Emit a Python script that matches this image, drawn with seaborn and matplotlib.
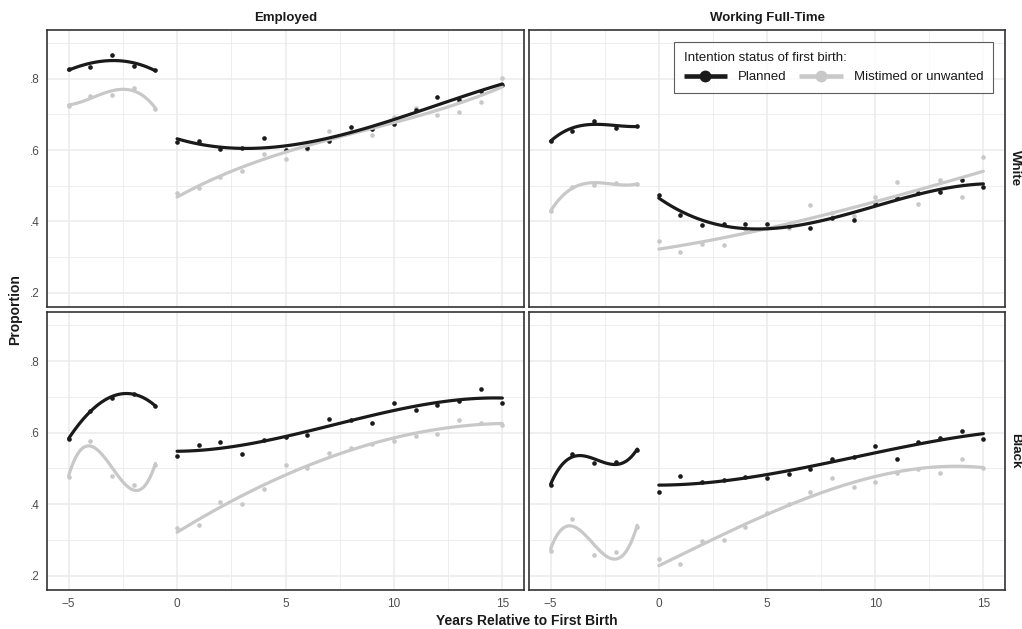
import numpy as np
import pandas as pd
import matplotlib
matplotlib.use("Agg")
import matplotlib.pyplot as plt
from matplotlib.lines import Line2D
import seaborn as sns

# ---------------- data ----------------
years = list(range(-5, 16))

white_emp_planned = [0.827, 0.834, 0.866, 0.835, 0.825,
                     0.624, 0.626, 0.603, 0.606, 0.634, 0.599, 0.607, 0.627, 0.664, 0.659,
                     0.672, 0.713, 0.748, 0.740, 0.765, 0.783]
white_emp_mistimed = [0.725, 0.752, 0.756, 0.773, 0.716,
                      0.479, 0.493, 0.524, 0.542, 0.589, 0.576, 0.603, 0.655, 0.652, 0.643,
                      0.694, 0.718, 0.699, 0.706, 0.734, 0.803]
white_ft_planned = [0.627, 0.655, 0.683, 0.662, 0.668,
                    0.475, 0.417, 0.390, 0.393, 0.392, 0.394, 0.386, 0.382, 0.410, 0.404,
                    0.451, 0.467, 0.479, 0.483, 0.515, 0.496]
white_ft_mistimed = [0.428, 0.498, 0.501, 0.509, 0.504,
                     0.346, 0.313, 0.336, 0.333, 0.378, 0.382, 0.381, 0.446, 0.425, 0.416,
                     0.468, 0.511, 0.449, 0.516, 0.468, 0.582]
black_emp_planned = [0.583, 0.661, 0.698, 0.709, 0.674,
                     0.535, 0.566, 0.575, 0.539, 0.578, 0.588, 0.594, 0.639, 0.634, 0.628,
                     0.683, 0.664, 0.676, 0.687, 0.722, 0.683]
black_emp_mistimed = [0.476, 0.577, 0.480, 0.454, 0.510,
                      0.332, 0.342, 0.407, 0.401, 0.441, 0.508, 0.500, 0.544, 0.556, 0.568,
                      0.576, 0.591, 0.595, 0.634, 0.628, 0.621]
black_ft_planned = [0.454, 0.539, 0.516, 0.518, 0.552,
                    0.434, 0.478, 0.463, 0.467, 0.476, 0.474, 0.483, 0.499, 0.525, 0.532,
                    0.563, 0.525, 0.574, 0.585, 0.605, 0.583]
black_ft_mistimed = [0.270, 0.358, 0.258, 0.266, 0.336,
                     0.247, 0.234, 0.296, 0.299, 0.336, 0.374, 0.401, 0.435, 0.472, 0.449,
                     0.462, 0.486, 0.497, 0.488, 0.525, 0.501]

races = ["White", "Black"]
outcomes = ["Employed", "Working Full-Time"]
groups = ["Planned", "Mistimed or unwanted"]
legend_title = "Intention status of first birth:"
x_label = "Years Relative to First Birth"
y_label = "Proportion"
x_ticks = [-5, 0, 5, 10, 15]
x_tick_labels = ["\u22125", "0", "5", "10", "15"]
y_ticks = [0.2, 0.4, 0.6, 0.8]
y_tick_labels = [".2", ".4", ".6", ".8"]

series = {
    ("White", "Employed", "Planned"): white_emp_planned,
    ("White", "Employed", "Mistimed or unwanted"): white_emp_mistimed,
    ("White", "Working Full-Time", "Planned"): white_ft_planned,
    ("White", "Working Full-Time", "Mistimed or unwanted"): white_ft_mistimed,
    ("Black", "Employed", "Planned"): black_emp_planned,
    ("Black", "Employed", "Mistimed or unwanted"): black_emp_mistimed,
    ("Black", "Working Full-Time", "Planned"): black_ft_planned,
    ("Black", "Working Full-Time", "Mistimed or unwanted"): black_ft_mistimed,
}

rows = []
for (race, outcome, grp), vals in series.items():
    for yr, v in zip(years, vals):
        rows.append(dict(race=race, outcome=outcome, group=grp, year=yr, value=v,
                         segment="pre" if yr < 0 else "post"))
df = pd.DataFrame(rows)

# ---------------- style ----------------
sns.set_theme(style="white")
plt.rcParams["font.family"] = ["Liberation Sans", "DejaVu Sans"]

colors = {"Planned": "#1a1a1a", "Mistimed or unwanted": "#c8c8c8"}
draw_order = ["Mistimed or unwanted", "Planned"]

W, H = 1022, 629
fig = plt.figure(figsize=(W / 100, H / 100), dpi=100)

col_px = [(47, 524), (529, 1005)]
row_px = [(30, 307), (312, 590)]

axes = {}
for ri, race in enumerate(races):
    for ci, outcome in enumerate(outcomes):
        x0, x1 = col_px[ci]
        y0, y1 = row_px[ri]
        ax = fig.add_axes([x0 / W, 1 - y1 / H, (x1 - x0) / W, (y1 - y0) / H])
        axes[(race, outcome)] = ax
        ax.set_xlim(-6, 16)
        ax.set_ylim(0.16, 0.937)
        ax.set_xticks(x_ticks)
        ax.set_xticks([-2.5, 2.5, 7.5, 12.5], minor=True)
        ax.set_yticks(y_ticks)
        ax.set_yticks([0.3, 0.5, 0.7, 0.9], minor=True)
        ax.grid(which="major", color="#ebebeb", lw=1.1, zorder=0)
        ax.grid(which="minor", color="#ebebeb", lw=0.6, zorder=0)
        ax.set_axisbelow(True)
        for sp in ax.spines.values():
            sp.set_color("#333333")
            sp.set_linewidth(1.2)
            sp.set_visible(True)
        ax.tick_params(which="major", direction="out", length=3.5, width=0.8,
                       color="#333333", labelsize=8.5, labelcolor="#4d4d4d", pad=2)
        ax.tick_params(which="minor", length=0)
        if ci == 0:
            ax.set_yticklabels(y_tick_labels)
        else:
            ax.set_yticklabels([])
        if ri == 1:
            ax.set_xticklabels(x_tick_labels)
            for lab in ax.get_xticklabels():
                lab.set_fontsize(8.5)
        else:
            ax.set_xticklabels([])

        sub = df[(df.race == race) & (df.outcome == outcome)]
        for grp in draw_order:
            g = sub[sub.group == grp]
            sns.scatterplot(data=g, x="year", y="value", color=colors[grp], s=11,
                            linewidth=0, ax=ax, legend=False, zorder=3)
            for seg in ["pre", "post"]:
                gs = g[g.segment == seg]
                sns.regplot(data=gs, x="year", y="value", order=3, ci=None,
                            scatter=False, truncate=True, ax=ax,
                            line_kws=dict(color=colors[grp], lw=2.3, zorder=4,
                                          solid_capstyle="round"))
        ax.set_xlabel("")
        ax.set_ylabel("")

# strip labels
for ci, outcome in enumerate(outcomes):
    x0, x1 = col_px[ci]
    fig.text((x0 + x1) / 2 / W, 1 - 18 / H, outcome, ha="center", va="center",
             fontsize=9.5, fontweight="bold", color="#1a1a1a")
for ri, race in enumerate(races):
    y0, y1 = row_px[ri]
    fig.text(1015 / W, 1 - (y0 + y1) / 2 / H, race, ha="center", va="center",
             rotation=-90, fontsize=9.5, fontweight="bold", color="#1a1a1a")

fig.text(15 / W, 1 - 310 / H, y_label, rotation=90, ha="center", va="center",
         fontsize=10, fontweight="bold", color="#1a1a1a")
fig.text(527 / W, 1 - 621 / H, x_label, ha="center", va="center",
         fontsize=10, fontweight="bold", color="#1a1a1a")

# legend
handles = [Line2D([0], [0], color=colors[g], lw=3.3, marker="o", markersize=7.5,
                  solid_capstyle="butt") for g in groups]
lax = axes[("White", "Working Full-Time")]
leg = lax.legend(handles, groups, title=legend_title, ncol=2, loc="upper right",
                 bbox_to_anchor=(0.975, 0.957), borderaxespad=0, frameon=True,
                 fancybox=False, fontsize=9.5, title_fontsize=9.5, handlelength=3.3,
                 columnspacing=1.0, handletextpad=0.8, borderpad=0.75,
                 labelspacing=0.55, alignment="left")
leg.get_frame().set_edgecolor("#333333")
leg.get_frame().set_linewidth(0.8)
leg.get_frame().set_facecolor("white")
for t in leg.get_texts():
    t.set_color("#1a1a1a")
leg.get_title().set_color("#1a1a1a")
leg.set_zorder(10)

fig.savefig("out.png", dpi=100, facecolor="white")
